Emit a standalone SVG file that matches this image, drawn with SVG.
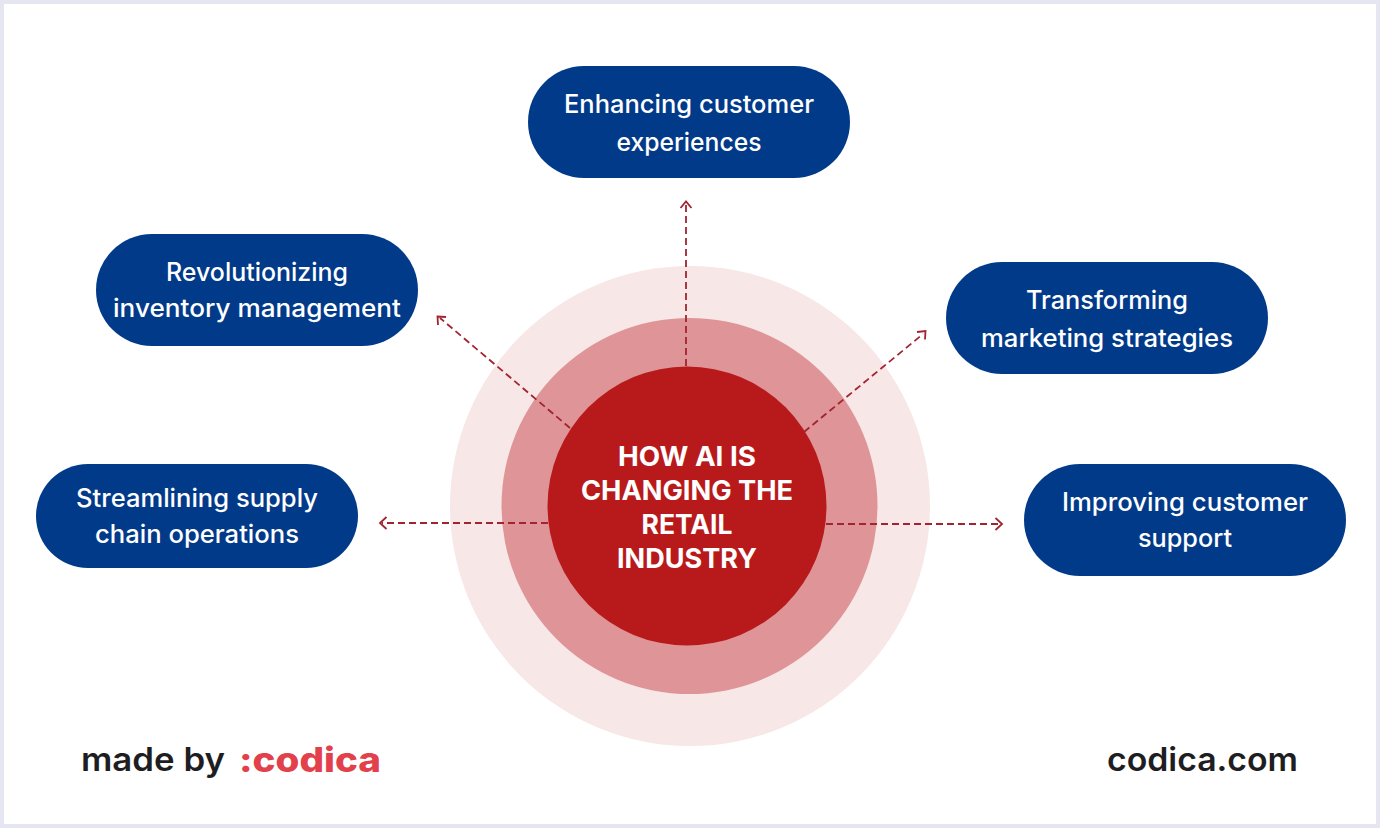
<svg xmlns="http://www.w3.org/2000/svg" width="1380" height="828" viewBox="0 0 1380 828">
<style>
.n{fill:#023a8a}
.t{fill:#fff;font:500 25px Inter,"Open Sans","Liberation Sans",sans-serif;text-anchor:middle}
.h{fill:#fff;font:700 27px Inter,"Open Sans","Liberation Sans",sans-serif;text-anchor:middle}
.c{fill:none;stroke:#a22430;stroke-width:1.8;stroke-dasharray:7 4}
.a{fill:none;stroke:#a22430;stroke-width:1.8}
.f{fill:#1e1e22;font:600 32px Inter,"Open Sans","Liberation Sans",sans-serif}
</style>
<rect x="2" y="2" width="1376" height="824" fill="#fff" stroke="#e6e6f2" stroke-width="4"/>
<g id="center">
<circle cx="690" cy="506" r="240" fill="#f7e7e7"/>
<circle cx="689.5" cy="506" r="188" fill="#df9597"/>
<circle cx="687" cy="506" r="139.5" fill="#b81a1c"/>
<text class="h" x="687" y="466" textLength="138" lengthAdjust="spacingAndGlyphs">HOW AI IS</text>
<text class="h" x="687" y="500" textLength="212" lengthAdjust="spacingAndGlyphs">CHANGING THE</text>
<text class="h" x="687" y="534" textLength="91" lengthAdjust="spacingAndGlyphs">RETAIL</text>
<text class="h" x="687" y="568" textLength="140" lengthAdjust="spacingAndGlyphs">INDUSTRY</text>
</g>
<g id="connectors">
<path class="c" d="M686 366V204"/><path class="a" d="M680.500 208l5.500-6.500 5.500 6.500"/>
<path class="c" d="M570 428L440 318"/><path class="a" d="M438 325l-.5-8.500 8.500.5"/>
<path class="c" d="M804 432L923 334"/><path class="a" d="M917 332l8.500-1-.5 8.500"/>
<path class="c" d="M548 523H382"/><path class="a" d="M386.500 517l-6.500 6 6.500 6"/>
<path class="c" d="M826 524H999"/><path class="a" d="M995.500 518l6.500 6-6.500 6"/>
</g>
<g id="node-customer-experiences"><rect class="n" x="528" y="66" width="322" height="112" rx="56"/>
<text class="t" x="689" y="112.500" textLength="250" lengthAdjust="spacingAndGlyphs">Enhancing customer</text><text class="t" x="689" y="150.500" textLength="145" lengthAdjust="spacingAndGlyphs">experiences</text></g>
<g id="node-inventory"><rect class="n" x="96" y="234" width="322" height="112" rx="56"/>
<text class="t" x="257" y="280.500" textLength="182" lengthAdjust="spacingAndGlyphs">Revolutionizing</text><text class="t" x="257" y="316.500" textLength="288" lengthAdjust="spacingAndGlyphs">inventory management</text></g>
<g id="node-marketing"><rect class="n" x="946" y="262" width="322" height="112" rx="56"/>
<text class="t" x="1107" y="308.500" textLength="162" lengthAdjust="spacingAndGlyphs">Transforming</text><text class="t" x="1107" y="346.500" textLength="252" lengthAdjust="spacingAndGlyphs">marketing strategies</text></g>
<g id="node-supply"><rect class="n" x="36" y="464" width="322" height="104" rx="52"/>
<text class="t" x="197" y="506.500" textLength="242" lengthAdjust="spacingAndGlyphs">Streamlining supply</text><text class="t" x="197" y="542.500" textLength="204" lengthAdjust="spacingAndGlyphs">chain operations</text></g>
<g id="node-support"><rect class="n" x="1024" y="464" width="322" height="112" rx="56"/>
<text class="t" x="1185" y="510.500" textLength="246" lengthAdjust="spacingAndGlyphs">Improving customer</text><text class="t" x="1185" y="546.500" textLength="94" lengthAdjust="spacingAndGlyphs">support</text></g>
<g id="footer">
<text class="f" x="81" y="770.500" textLength="144" lengthAdjust="spacingAndGlyphs">made by</text>
<text x="239" y="771.500" textLength="142" lengthAdjust="spacingAndGlyphs" style="fill:#e2404a;font:800 34px Inter,'Liberation Sans',sans-serif">:codica</text>
<text class="f" x="1107" y="770.500" textLength="191" lengthAdjust="spacingAndGlyphs">codica.com</text>
</g>
</svg>
